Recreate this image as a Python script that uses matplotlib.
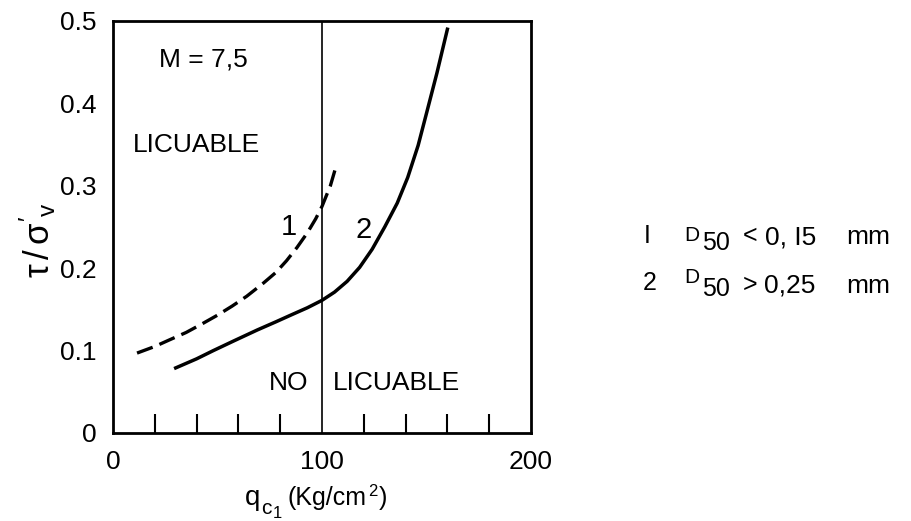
import matplotlib
matplotlib.use("Agg")
import matplotlib.pyplot as plt

plt.rcParams['font.family'] = ['Liberation Sans', 'DejaVu Sans']
plt.rcParams['mathtext.fontset'] = 'custom'
plt.rcParams['mathtext.rm'] = 'Liberation Sans'
plt.rcParams['mathtext.it'] = 'Liberation Sans'

# Curve 1 (dashed): D50 < 0,15 mm
q1 = [11.5, 20, 27, 35, 43, 50, 57, 64, 72, 78, 83, 88, 93, 97, 100, 104, 107]
r1 = [0.097, 0.105, 0.113, 0.122, 0.133, 0.143, 0.154, 0.166, 0.182, 0.195, 0.209, 0.225, 0.243, 0.26, 0.275, 0.3, 0.326]

# Curve 2 (solid): D50 > 0,25 mm
q2 = [30, 40, 48, 58, 69, 78, 85, 93, 100, 106, 112, 118, 124, 130, 136, 141, 146, 150, 155, 160]
r2 = [0.079, 0.09, 0.1, 0.112, 0.125, 0.135, 0.143, 0.152, 0.161, 0.171, 0.184, 0.201, 0.223, 0.25, 0.279, 0.31, 0.349, 0.388, 0.437, 0.49]

x_major = [0, 100, 200]
x_major_labels = ["0", "100", "200"]
x_minor = [20, 40, 60, 80, 120, 140, 160, 180]
y_major = [0, 0.1, 0.2, 0.3, 0.4, 0.5]
y_major_labels = ["0", "0.1", "0.2", "0.3", "0.4", "0.5"]
y_minor = [0.1, 0.2, 0.3, 0.4]

W, H = 912, 521
fig = plt.figure(figsize=(W / 100, H / 100), dpi=100)
ax = fig.add_axes([113 / W, 1 - 433 / H, (531 - 113) / W, (433 - 21) / H])

ax.set_xlim(0, 200)
ax.set_ylim(0, 0.5)

ax.plot(q1, r1, color='black', lw=2.4, linestyle=(0, (5, 2.2)), solid_capstyle='butt')
ax.plot(q2, r2, color='black', lw=2.5)
ax.axvline(100, color='black', lw=1.2)

for s in ax.spines.values():
    s.set_linewidth(2.0)

ax.set_xticks(x_major)
ax.set_xticklabels(x_major_labels)
ax.set_xticks(x_minor, minor=True)
ax.set_yticks(y_major)
ax.set_yticklabels(y_major_labels)
ax.set_yticks(y_minor, minor=True)
ax.tick_params(axis='both', which='major', length=0, pad=12, labelsize=19)
ax.tick_params(axis='x', which='minor', direction='in', length=14, width=1.5, bottom=True, top=False)
ax.tick_params(axis='y', which='minor', direction='in', length=14, width=1.2, left=True, right=True)

ax.text(22, 0.453, "M = 7,5", fontsize=19, va='center', ha='left')
ax.text(9.5, 0.35, "LICUABLE", fontsize=19, va='center', ha='left')
ax.text(84, 0.25, "1", fontsize=21, va='center', ha='center')
ax.text(120, 0.246, "2", fontsize=21, va='center', ha='center')
ax.text(84, 0.061, "NO", fontsize=19, va='center', ha='center')
ax.text(105, 0.061, "LICUABLE", fontsize=19, va='center', ha='left')

fig.text(38 / W, 1 - 240 / H, r"$\tau\,/\,\sigma'_v$", rotation=90, fontsize=25,
         ha='center', va='center')

renderer = fig.canvas.get_renderer()

def ftxt(x, y, s, size):
    return fig.text(x / W, 1 - y / H, s, fontsize=size, ha='left', va='baseline')

def chain(x0, pieces):
    x = x0
    for s, y, size, gap in pieces:
        t = ftxt(x + gap, y, s, size)
        x = t.get_window_extent(renderer=renderer).x1

# x-axis label pieces
chain(245, [("q", 505, 20, 0), ("c", 514, 15, 1), ("1", 518, 12, 1),
            ("(Kg/cm", 505, 18, 6), ("2", 496, 12, 1), (")", 505, 18, 1)])

# legend row 1
ftxt(644, 243, "I", 18)
ftxt(684, 241, "D", 15)
ftxt(702, 250, "50", 18)
ftxt(743, 243, "<", 18)
ftxt(765, 244, "0, I5", 19)
ftxt(846, 244, "mm", 19)
# legend row 2
ftxt(643, 290, "2", 18)
ftxt(684, 283, "D", 15)
ftxt(702, 296, "50", 18)
ftxt(743, 292, ">", 18)
ftxt(764, 293, "0,25", 19)
ftxt(846, 293, "mm", 19)

fig.savefig("out.png", dpi=100)
